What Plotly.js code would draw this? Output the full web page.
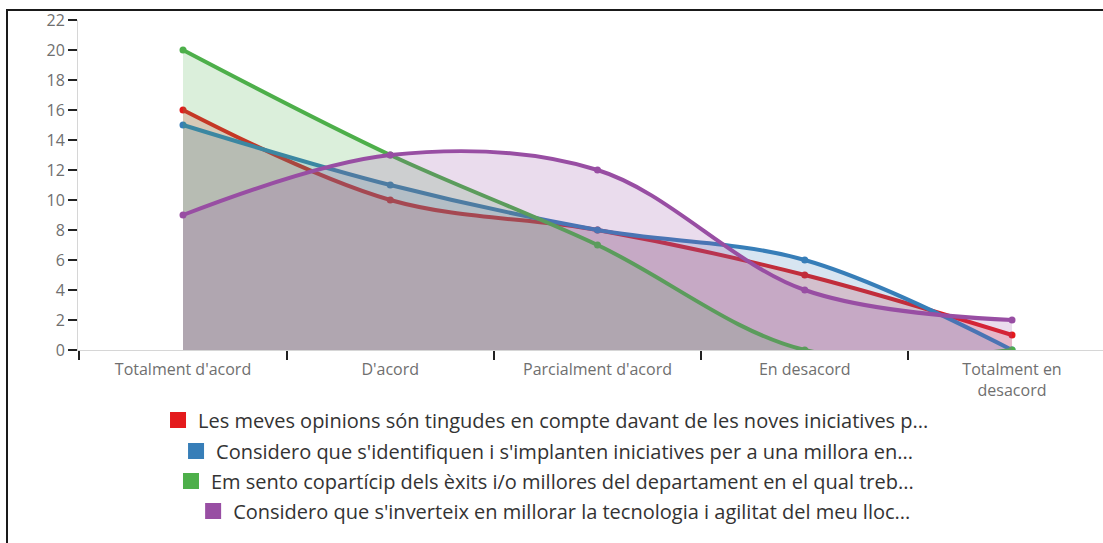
<!DOCTYPE html>
<html lang="ca">
<head>
  <meta charset="UTF-8">
  <title>Valoració de les iniciatives</title>
  <script src="https://cdn.plot.ly/plotly-3.0.1.min.js"></script>
  <style>
    body { margin: 0; background: #fff; overflow: hidden; }
    #frame { position: absolute; left: 6px; top: 9px; width: 1200px; height: 600px;
             border-top: 2px solid #1a1a1a; border-left: 2px solid #1a1a1a; }
    #plot { position: absolute; left: 0; top: 0; width: 1103px; height: 543px; }
  </style>
</head>
<body>
  <div id="frame"></div>
  <div id="plot"></div>

  <script>
    // answer categories
    const categories = ["Totalment d'acord", "D'acord", "Parcialment d'acord", "En desacord", "Totalment en<br>desacord"];

    // statements (as truncated in the chart legend)
    const seriesNames = [
      "Les meves opinions són tingudes en compte davant de les noves iniciatives p...",
      "Considero que s'identifiquen i s'implanten iniciatives per a una millora en...",
      "Em sento copartícip dels èxits i/o millores del departament en el qual treb...",
      "Considero que s'inverteix en millorar la tecnologia i agilitat del meu lloc..."
    ];

    // number of answers per category
    const opinions = [16, 10, 8, 5, 1];
    const iniciatives = [15, 11, 8, 6, 0];
    const exits = [20, 13, 7, 0, 0];
    const tecnologia = [9, 13, 12, 4, 2];

    const colors = ['#e41a1c', '#377eb8', '#4daf4a', '#984ea3'];
    const fills = ['rgba(228,26,28,0.2)', 'rgba(55,126,184,0.2)', 'rgba(77,175,74,0.2)', 'rgba(152,78,163,0.2)'];
    const values = [opinions, iniciatives, exits, tecnologia];

    const traces = [];
    values.forEach((v, i) => {
      traces.push({
        x: categories,
        y: v,
        type: 'scatter',
        mode: 'lines+markers',
        line: { color: colors[i], width: 4, shape: 'spline', smoothing: 1 },
        marker: { color: colors[i], size: 7 },
        fill: 'tozeroy',
        fillcolor: fills[i],
        showlegend: false,
        hoverinfo: 'y'
      });
    });

    // legend entries (square swatches), one legend per line so each is centred
    const legendIds = ['legend', 'legend2', 'legend3', 'legend4'];
    seriesNames.forEach((name, i) => {
      traces.push({
        x: [categories[0]],
        y: [null],
        type: 'scatter',
        mode: 'markers',
        name: name,
        marker: { color: colors[i], symbol: 'square', size: 18 },
        legend: legendIds[i],
        hoverinfo: 'skip'
      });
    });

    const legendY = [-0.212, -0.306, -0.397, -0.488];
    const legendX = [0.4566, 0.4576, 0.4556, 0.465];

    const layout = {
      width: 1103,
      height: 543,
      margin: { l: 78, r: 0, t: 20, b: 193 },
      paper_bgcolor: 'rgba(0,0,0,0)',
      plot_bgcolor: 'rgba(0,0,0,0)',
      font: { family: 'Open Sans, sans-serif', color: '#333' },
      xaxis: {
        type: 'category',
        range: [-0.5066, 4.439],
        showgrid: false,
        zeroline: false,
        showline: true,
        linecolor: '#d6d6d6',
        linewidth: 1,
        ticks: 'outside',
        tickson: 'boundaries',
        ticklen: 9,
        tickwidth: 2,
        tickcolor: '#222',
        ticklabelstandoff: 5,
        tickfont: { size: 16, color: '#6f6f6f' }
      },
      yaxis: {
        range: [0, 22],
        dtick: 2,
        showgrid: false,
        zeroline: false,
        showline: true,
        linecolor: '#d6d6d6',
        linewidth: 1,
        ticks: 'outside',
        ticklen: 9,
        tickwidth: 2,
        tickcolor: '#222',
        tickfont: { size: 16, color: '#6f6f6f' }
      },
      showlegend: true
    };

    legendIds.forEach((id, i) => {
      layout[id] = {
        x: legendX[i],
        xanchor: 'center',
        y: legendY[i],
        yanchor: 'middle',
        orientation: 'v',
        font: { size: 20, color: '#333' },
        bgcolor: 'rgba(0,0,0,0)',
        itemclick: false
      };
    });

    Plotly.newPlot('plot', traces, layout, { displayModeBar: false, staticPlot: true });
  </script>
</body>
</html>
